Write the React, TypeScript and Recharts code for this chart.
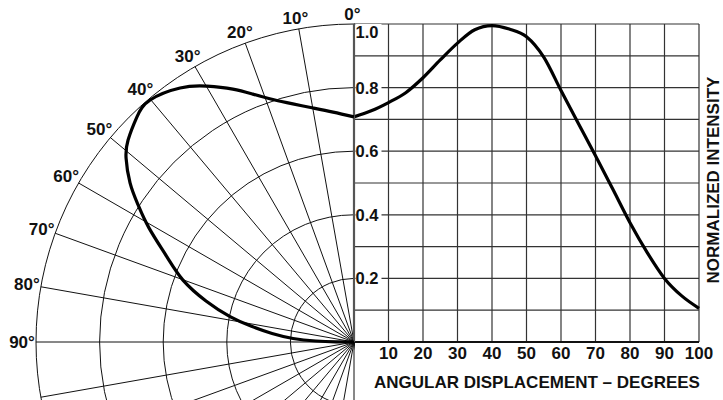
import React from "react";
import {
  LineChart,
  Line,
  XAxis,
  YAxis,
  CartesianGrid,
  RadarChart,
  PolarGrid,
  PolarAngleAxis,
  PolarRadiusAxis,
} from "recharts";

const W = 723;
const H = 400;
// polar origin sits on the bottom-left corner of the intensity box,
// and the 1.0 ring has the same radius as the box is tall
const CX = 354;
const CY = 342;
const R = 318;
const FONT = '"Liberation Sans", Arial, Helvetica, sans-serif';

// right box: normalized intensity vs angular displacement
const displacement = [0, 5, 10, 15, 20, 25, 30, 35, 40, 45, 50, 55, 60, 65, 70, 75, 80, 85, 90, 95, 100];
const intensity = [
  0.708, 0.727, 0.753, 0.784, 0.831, 0.887, 0.94, 0.982, 0.995, 0.984, 0.96,
  0.896, 0.791, 0.688, 0.586, 0.481, 0.375, 0.281, 0.2, 0.145, 0.106,
];
const degreeTicks = [0, 10, 20, 30, 40, 50, 60, 70, 80, 90, 100];
const intensityTicks = [0, 0.1, 0.2, 0.3, 0.4, 0.5, 0.6, 0.7, 0.8, 0.9, 1];

// left: the same pattern traced on the polar grid
// (degrees off axis, relative intensity)
const polarAngle = [
  0, 5.2, 9.9, 14.4, 18.5, 22.2, 25.6, 29.9, 34.4, 40.1, 44.0, 48.2, 51.1,
  54.6, 57.6, 60.9, 65.5, 70.1, 74.5, 78.4, 81.4, 84.1, 86.7, 88.5, 89.4, 90,
];
const polarIntensity = [
  0.708, 0.726, 0.747, 0.773, 0.804, 0.842, 0.882, 0.928, 0.968, 0.995, 0.983,
  0.953, 0.921, 0.864, 0.804, 0.738, 0.647, 0.572, 0.483, 0.398, 0.324, 0.259,
  0.192, 0.12, 0.057, 0,
];
const spokeAngles = Array.from({ length: 36 }, (_, i) => i * 10);
const ringTicks = [0.2, 0.4, 0.6, 0.8, 1];

const rightData = displacement.map((d, i) => ({ deg: d, v: intensity[i] }));
const polarPoints = polarAngle.map((a, i) => {
  const t = (a * Math.PI) / 180;
  return { x: -polarIntensity[i] * Math.sin(t), y: polarIntensity[i] * Math.cos(t) };
});
const spokeData = spokeAngles.map((a) => ({ angle: a }));

const layer: React.CSSProperties = { position: "absolute", left: 0, top: 0 };

function XTick({ x, y, payload }: any) {
  if (payload.value === 0) return <g />;
  return (
    <text x={x} y={y + 9} textAnchor="middle" fontFamily={FONT} fontWeight="bold" fontSize={17} fill="#111">
      {payload.value}
    </text>
  );
}

function YTick({ y, payload }: any) {
  const v = payload.value;
  const step = Math.round(v * 10);
  if (step === 0 || step % 2 !== 0) return <g />;
  // 1.0 tucks under the top border, the rest sit on their gridline
  const cy = step === 10 ? y + 8 : y;
  return (
    <g>
      <rect x={CX + 1.5} y={cy - 8} width={26} height={16} fill="#fff" />
      <text x={CX + 1.5} y={cy + 6} fontFamily={FONT} fontWeight="bold" fontSize={16.5} fill="#111">
        {v.toFixed(1)}
      </text>
    </g>
  );
}

function AngleTick({ x, y, payload }: any) {
  const a = Number(payload.value);
  if (a > 90) return <g />;
  const dx = x - CX;
  const dy = y - CY;
  const len = Math.hypot(dx, dy) || 1;
  const ux = dx / len;
  const uy = dy / len;
  const rl = 328 + 4 * Math.abs(ux);
  return (
    <text
      x={CX + ux * rl - 1.5 * Math.abs(uy)}
      y={CY + uy * rl + 6}
      textAnchor="middle"
      fontFamily={FONT}
      fontWeight="bold"
      fontSize={17}
      fill="#111"
    >
      {a}°
    </text>
  );
}

export default function App() {
  return (
    <div style={{ position: "absolute", left: 0, top: 0, width: W, height: H, background: "#fff", fontFamily: FONT }}>
      {/* polar grid, cut off at the vertical axis */}
      <div style={{ ...layer, width: CX + 1, height: H, overflow: "hidden" }}>
        <RadarChart width={W} height={H} data={spokeData} cx={CX} cy={CY} outerRadius={R} startAngle={100} endAngle={460}>
          <PolarGrid
            gridType="circle"
            stroke="#111"
            strokeWidth={1}
            polarAngles={spokeAngles}
            polarRadius={ringTicks.map((t) => t * R)}
          />
          <PolarAngleAxis dataKey="angle" tick={false} tickLine={false} axisLine={false} />
          <PolarRadiusAxis type="number" domain={[0, 1]} tick={false} axisLine={false} />
        </RadarChart>
      </div>

      {/* angle labels 0°..90° */}
      <div style={layer}>
        <RadarChart width={W} height={H} data={spokeData} cx={CX} cy={CY} outerRadius={R} startAngle={100} endAngle={460}>
          <PolarAngleAxis dataKey="angle" tick={AngleTick} tickLine={false} axisLine={false} />
        </RadarChart>
      </div>

      {/* intensity vs angular displacement */}
      <div style={layer}>
        <LineChart width={W} height={H} data={rightData} margin={{ top: CY - R, right: 24, left: CX - 10, bottom: H - CY - 30 }}>
          <CartesianGrid stroke="#333" strokeWidth={1.2} />
          <XAxis
            type="number"
            dataKey="deg"
            domain={[0, 100]}
            ticks={degreeTicks}
            interval={0}
            height={30}
            tickLine={false}
            axisLine={{ stroke: "#111", strokeWidth: 2 }}
            tick={XTick}
          />
          <YAxis
            type="number"
            domain={[0, 1]}
            ticks={intensityTicks}
            interval={0}
            width={10}
            tickLine={false}
            axisLine={{ stroke: "#555", strokeWidth: 2.2 }}
            tick={YTick}
          />
          <Line
            dataKey="v"
            type="monotone"
            stroke="#000"
            strokeWidth={3.2}
            dot={false}
            isAnimationActive={false}
          />
        </LineChart>
      </div>

      {/* polar pattern curve */}
      <div style={layer}>
        <LineChart width={W} height={H} data={polarPoints} margin={{ top: CY - R, left: CX - R, right: W - CX, bottom: H - CY }}>
          <XAxis type="number" dataKey="x" domain={[-1, 0]} hide />
          <YAxis type="number" domain={[0, 1]} hide />
          <Line
            dataKey="y"
            type="natural"
            stroke="#000"
            strokeWidth={3.2}
            strokeLinejoin="round"
            dot={false}
            isAnimationActive={false}
          />
        </LineChart>
      </div>

      <svg width={W} height={H} style={{ ...layer, pointerEvents: "none" }}>
        <text x={537} y={387.5} textAnchor="middle" fontFamily={FONT} fontWeight="bold" fontSize={17} fill="#111">
          ANGULAR DISPLACEMENT – DEGREES
        </text>
        <text
          transform="translate(719,180) rotate(-90)"
          textAnchor="middle"
          fontFamily={FONT}
          fontWeight="bold"
          fontSize={17}
          fill="#111"
        >
          NORMALIZED INTENSITY
        </text>
      </svg>
    </div>
  );
}
